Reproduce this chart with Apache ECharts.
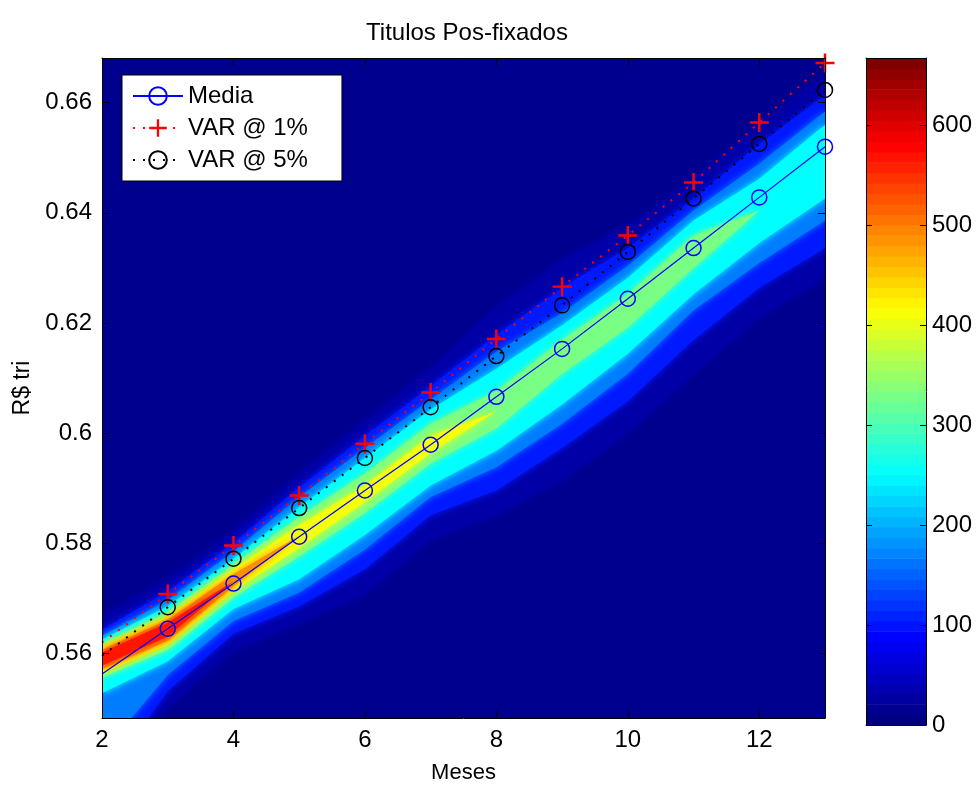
<!DOCTYPE html>
<html>
<head>
<meta charset="utf-8">
<script src="https://cdn.jsdelivr.net/npm/echarts@6/dist/echarts.min.js"></script>
<style>
  html, body { margin: 0; background: #fff; }
  #chart { width: 978px; height: 789px; }
</style>
</head>
<body>
<div id="chart"></div>
<script>
// meses e curvas
const months = [2, 3, 4, 5, 6, 7, 8, 9, 10, 11, 12, 13];
const media = [0.5563, 0.5645, 0.5727, 0.5812, 0.5896, 0.5979, 0.6066, 0.6153, 0.6244, 0.6336, 0.6428, 0.6520];
const var1 = [0.5620, 0.5708, 0.5796, 0.5887, 0.5981, 0.6074, 0.6171, 0.6266, 0.6359, 0.6455, 0.6564, 0.6672];
const var5 = [0.5596, 0.5684, 0.5772, 0.5864, 0.5955, 0.6047, 0.6140, 0.6232, 0.6329, 0.6426, 0.6525, 0.6623];

const xTicks = [2, 4, 6, 8, 10, 12];
const yTicks = [0.56, 0.58, 0.6, 0.62, 0.64, 0.66];
const cTicks = [0, 100, 200, 300, 400, 500, 600];
const cMax = 667;

// densidade: limites superior/inferior de cada nivel, por mes
const levels = [12, 40, 130, 210, 290, 370, 450, 530];
const levelMid = [25, 100, 165, 250, 330, 410, 490, 570];
const top12 = [0.5668, 0.5735, 0.5823, 0.5927, 0.6022, 0.6117, 0.6228, 0.6315, 0.6376, 0.6462, 0.6560, 0.6650];
const top40 = [0.5643, 0.5713, 0.5801, 0.5902, 0.5995, 0.6085, 0.6178, 0.6264, 0.6336, 0.6426, 0.6525, 0.6614];
const top130 = [0.5632, 0.5697, 0.5785, 0.5884, 0.5973, 0.6061, 0.6148, 0.6218, 0.6304, 0.6404, 0.6489, 0.6584];
const top210 = [0.5625, 0.5686, 0.5772, 0.5866, 0.5955, 0.6043, 0.6117, 0.6196, 0.6282, 0.6386, 0.6462, 0.6560];
const top290 = [0.5618, 0.5675, 0.5762, 0.5848, 0.5927, 0.6017, 0.6076, 0.6169, 0.6252, 0.6359, 0.6404, 0.6489];
const top370 = [0.5613, 0.5668, 0.5753, 0.5833, 0.5905, 0.5995, 0.6040, 0.6139, 0.6223, 0.6331, 0.6404, 0.6489];
const top450 = [0.5607, 0.5661, 0.5744, 0.5814, 0.5891, 0.5979, 0.6040, 0.6139, 0.6223, 0.6331, 0.6404, 0.6489];
const top530 = [0.5602, 0.5656, 0.5731, 0.5814, 0.5891, 0.5979, 0.6040, 0.6139, 0.6223, 0.6331, 0.6404, 0.6489];
const bot530 = [0.5578, 0.5631, 0.5731, 0.5814, 0.5891, 0.5979, 0.6040, 0.6139, 0.6223, 0.6331, 0.6404, 0.6489];
const bot450 = [0.5571, 0.5623, 0.5722, 0.5814, 0.5891, 0.5979, 0.6040, 0.6139, 0.6223, 0.6331, 0.6404, 0.6489];
const bot370 = [0.5564, 0.5616, 0.5713, 0.5792, 0.5875, 0.5964, 0.6040, 0.6139, 0.6223, 0.6331, 0.6404, 0.6489];
const bot290 = [0.5557, 0.5607, 0.5702, 0.5776, 0.5855, 0.5945, 0.6009, 0.6108, 0.6192, 0.6300, 0.6404, 0.6489];
const bot210 = [0.5528, 0.5586, 0.5681, 0.5735, 0.5815, 0.5905, 0.5968, 0.6052, 0.6144, 0.6252, 0.6345, 0.6426];
const bot130 = [0.5420, 0.5561, 0.5659, 0.5711, 0.5789, 0.5884, 0.5938, 0.6017, 0.6108, 0.6223, 0.6309, 0.6386];
const bot40 = [0.5367, 0.5532, 0.5636, 0.5686, 0.5753, 0.5851, 0.5896, 0.5973, 0.6058, 0.6169, 0.6264, 0.6336];
const bot12 = [0.5331, 0.5501, 0.5604, 0.5654, 0.5708, 0.5806, 0.5851, 0.5914, 0.6000, 0.6108, 0.6210, 0.6282];

const bandTop = [top12, top40, top130, top210, top290, top370, top450, top530];
const bandBottom = [bot12, bot40, bot130, bot210, bot290, bot370, bot450, bot530];

const font = "'Liberation Sans', Arial, sans-serif";

function jet(t) {
  let c = v => Math.round(255 * Math.max(0, Math.min(1, v)));
  let r = c(1.5 - Math.abs(4 * t - 3));
  let g = c(1.5 - Math.abs(4 * t - 2));
  let b = c(1.5 - Math.abs(4 * t - 1));
  return 'rgb(' + r + ',' + g + ',' + b + ')';
}

let colorSteps = [];
for (let i = 0; i < 64; i++) colorSteps.push(i);

function pts(arr) {
  return months.map((m, i) => i === 0 ? { value: [m, arr[i]], symbol: 'none' } : [m, arr[i]]);
}

const boxAxis = {
  axisLine: { show: true, onZero: false, lineStyle: { color: '#000', width: 1 } },
  splitLine: { show: false },
  z: 10
};

let chart = echarts.init(document.getElementById('chart'));
chart.setOption({
  backgroundColor: '#fff',
  animation: false,
  textStyle: { fontFamily: font },
  title: {
    text: 'Titulos Pos-fixados',
    left: 462,
    textAlign: 'center',
    top: 16,
    textStyle: { fontSize: 24, fontWeight: 'normal', color: '#000', fontFamily: font }
  },
  legend: {
    data: ['Media', 'VAR @ 1%', 'VAR @ 5%'],
    orient: 'vertical',
    left: 122,
    top: 75,
    backgroundColor: '#fff',
    borderColor: '#000',
    borderWidth: 1,
    borderRadius: 0,
    padding: [9, 34, 9, 10],
    itemGap: 8,
    itemWidth: 50,
    itemHeight: 22,
    textStyle: { fontSize: 24, color: '#000', fontFamily: font }
  },
  grid: [
    { left: 102, right: 153, top: 58, bottom: 64, show: true, backgroundColor: '#00008f', borderWidth: 0 },
    { left: 866, width: 60, top: 58, bottom: 64, show: false }
  ],
  xAxis: [
    Object.assign({}, boxAxis, {
      gridIndex: 0, type: 'value', min: 2, max: 13, position: 'bottom',
      axisTick: { inside: true, length: 7, customValues: xTicks, lineStyle: { color: '#000' } },
      axisLabel: { customValues: xTicks, fontSize: 24, color: '#000', margin: 10, fontFamily: font },
      name: 'Meses', nameLocation: 'middle', nameGap: 44,
      nameTextStyle: { fontSize: 22, color: '#000', fontFamily: font }
    }),
    Object.assign({}, boxAxis, {
      gridIndex: 0, type: 'value', min: 2, max: 13, position: 'top',
      axisTick: { inside: true, length: 7, customValues: xTicks, lineStyle: { color: '#000' } },
      axisLabel: { show: false }
    }),
    Object.assign({}, boxAxis, {
      gridIndex: 1, type: 'value', min: 0, max: 1, position: 'bottom',
      axisTick: { show: false }, axisLabel: { show: false }
    }),
    Object.assign({}, boxAxis, {
      gridIndex: 1, type: 'value', min: 0, max: 1, position: 'top',
      axisTick: { show: false }, axisLabel: { show: false }
    })
  ],
  yAxis: [
    Object.assign({}, boxAxis, {
      gridIndex: 0, type: 'value', min: 0.5483, max: 0.6681, position: 'left',
      axisTick: { inside: true, length: 7, customValues: yTicks, lineStyle: { color: '#000' } },
      axisLabel: { customValues: yTicks, fontSize: 24, color: '#000', margin: 10, fontFamily: font },
      name: 'R$ tri', nameLocation: 'middle', nameGap: 63,
      nameTextStyle: { fontSize: 23, color: '#000', fontFamily: font }
    }),
    Object.assign({}, boxAxis, {
      gridIndex: 0, type: 'value', min: 0.5483, max: 0.6681, position: 'right',
      axisTick: { inside: true, length: 7, customValues: yTicks, lineStyle: { color: '#000' } },
      axisLabel: { show: false }
    }),
    Object.assign({}, boxAxis, {
      gridIndex: 1, type: 'value', min: 0, max: cMax, position: 'right',
      axisTick: { inside: true, length: 6, customValues: cTicks, lineStyle: { color: '#000' } },
      axisLabel: { customValues: cTicks, fontSize: 24, color: '#000', margin: 6, fontFamily: font }
    }),
    Object.assign({}, boxAxis, {
      gridIndex: 1, type: 'value', min: 0, max: cMax, position: 'left',
      axisTick: { inside: true, length: 6, customValues: cTicks, lineStyle: { color: '#000' } },
      axisLabel: { show: false }
    })
  ],
  series: [
    {
      type: 'custom',
      xAxisIndex: 0,
      yAxisIndex: 0,
      clip: true,
      silent: true,
      z: 1,
      data: levels,
      renderItem: function (params, api) {
        let k = params.dataIndex;
        let p = [];
        for (let j = 0; j < months.length; j++) p.push(api.coord([months[j], bandTop[k][j]]));
        for (let j = months.length - 1; j >= 0; j--) p.push(api.coord([months[j], bandBottom[k][j]]));
        let c = jet(levelMid[k] / cMax);
        return { type: 'polygon', shape: { points: p }, style: { fill: c, shadowBlur: 7, shadowColor: c } };
      }
    },
    {
      type: 'custom',
      xAxisIndex: 2,
      yAxisIndex: 2,
      silent: true,
      z: 1,
      data: colorSteps,
      renderItem: function (params, api) {
        let i = params.dataIndex;
        let a = api.coord([0, (i + 1) * cMax / 64]);
        let b = api.coord([1, i * cMax / 64]);
        return {
          type: 'rect',
          shape: { x: a[0], y: a[1], width: b[0] - a[0], height: b[1] - a[1] + 0.6 },
          style: { fill: jet(i / 63) }
        };
      }
    },
    {
      name: 'Media',
      type: 'line',
      xAxisIndex: 0,
      yAxisIndex: 0,
      z: 5,
      data: pts(media),
      symbol: 'circle',
      symbolSize: 15,
      itemStyle: { color: 'rgba(0,0,0,0)', borderColor: '#0000ff', borderWidth: 1.5 },
      lineStyle: { color: '#0000ff', width: 1.2 }
    },
    {
      name: 'VAR @ 1%',
      type: 'line',
      xAxisIndex: 0,
      yAxisIndex: 0,
      z: 5,
      data: pts(var1),
      symbol: 'path://M-1.3,-10H1.3V-1.3H10V1.3H1.3V10H-1.3V1.3H-10V-1.3H-1.3Z',
      symbolSize: 19,
      itemStyle: { color: '#ff0000', borderWidth: 0 },
      lineStyle: { color: '#ff0000', width: 2, type: [2, 8] }
    },
    {
      name: 'VAR @ 5%',
      type: 'line',
      xAxisIndex: 0,
      yAxisIndex: 0,
      z: 5,
      data: pts(var5),
      symbol: 'circle',
      symbolSize: 15,
      itemStyle: { color: 'rgba(0,0,0,0)', borderColor: '#000', borderWidth: 1.5 },
      lineStyle: { color: '#000', width: 2, type: [2, 8] }
    }
  ]
});
</script>
</body>
</html>
